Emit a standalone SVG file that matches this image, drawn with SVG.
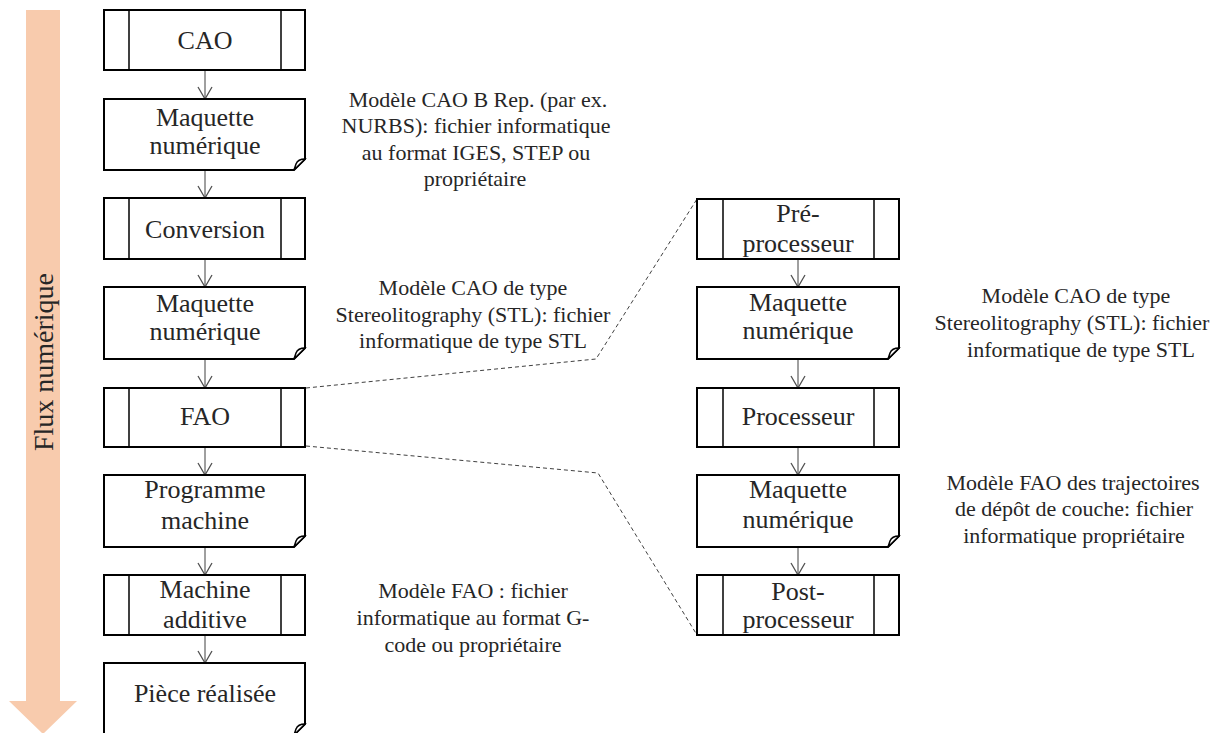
<svg xmlns="http://www.w3.org/2000/svg" width="1212" height="733" viewBox="0 0 1212 733">
<style>
.box{fill:#fff;stroke:#000;stroke-width:2}
.inner{stroke:#000;stroke-width:1.5}
.curl{fill:#fff;stroke:#000;stroke-width:1.5}
.nt{font-family:'Liberation Serif','Times New Roman','DejaVu Serif',serif;font-size:26px;fill:#262626;text-anchor:middle}
.at{font-family:'Liberation Serif','Times New Roman','DejaVu Serif',serif;font-size:22px;fill:#262626;text-anchor:middle}
.ft{font-family:'Liberation Serif','Times New Roman','DejaVu Serif',serif;font-size:28px;fill:#262626;text-anchor:middle}
.arr{stroke:#404040;stroke-width:1;fill:none;marker-end:url(#v)}
.dash{stroke:#404040;stroke-width:1;fill:none;stroke-dasharray:4 3}
</style>
<defs>
<marker id="v" viewBox="-13 -8 14 16" refX="0" refY="0" markerWidth="14" markerHeight="16" markerUnits="userSpaceOnUse" orient="auto">
<path d="M-12,-7 L0,0 L-12,7" fill="none" stroke="#505050" stroke-width="1.3"/>
</marker>
</defs>
<rect width="1212" height="733" fill="#fff"/>
<g id="flux">
<polygon points="26,10 60,10 60,701 77,701 43,734 9,701 26,701" fill="#F8CBAD"/>
<text class="ft" transform="translate(53,362) rotate(-90)">Flux numérique</text>
</g>
<g id="connectors">
<line class="arr" x1="205" y1="70" x2="205" y2="99"/>
<line class="arr" x1="205" y1="170" x2="205" y2="198"/>
<line class="arr" x1="205" y1="259" x2="205" y2="287"/>
<line class="arr" x1="205" y1="359" x2="205" y2="388"/>
<line class="arr" x1="205" y1="447" x2="205" y2="475"/>
<line class="arr" x1="205" y1="547" x2="205" y2="575"/>
<line class="arr" x1="205" y1="635" x2="205" y2="663"/>
<line class="arr" x1="798" y1="259" x2="798" y2="287"/>
<line class="arr" x1="798" y1="359" x2="798" y2="388"/>
<line class="arr" x1="798" y1="447" x2="798" y2="475"/>
<line class="arr" x1="798" y1="547" x2="798" y2="575"/>
<polyline class="dash" points="306,388 596,359 697,199"/>
<polyline class="dash" points="306,446 598,473 697,635"/>
</g>
<g id="n-cao">
<rect class="box" x="104" y="10" width="201" height="60"/>
<line class="inner" x1="129" y1="10" x2="129" y2="70"/><line class="inner" x1="281" y1="10" x2="281" y2="70"/>
<text class="nt" x="205" y="49">CAO</text>
</g>
<g id="n-maq1">
<path class="box" d="M104,99 H305 V159 L294,170 H104 Z"/>
<path class="curl" d="M294,170 L305,159 Q298,159 296,164 Q295,167 294,170 Z"/>
<text class="nt" x="205" y="126">Maquette</text>
<text class="nt" x="205" y="154">numérique</text>
</g>
<g id="n-conv">
<rect class="box" x="104" y="198" width="201" height="61"/>
<line class="inner" x1="129" y1="198" x2="129" y2="259"/><line class="inner" x1="281" y1="198" x2="281" y2="259"/>
<text class="nt" x="205" y="238">Conversion</text>
</g>
<g id="n-maq2">
<path class="box" d="M104,287 H305 V348 L294,359 H104 Z"/>
<path class="curl" d="M294,359 L305,348 Q298,348 296,353 Q295,356 294,359 Z"/>
<text class="nt" x="205" y="312">Maquette</text>
<text class="nt" x="205" y="340">numérique</text>
</g>
<g id="n-fao">
<rect class="box" x="104" y="388" width="201" height="59"/>
<line class="inner" x1="129" y1="388" x2="129" y2="447"/><line class="inner" x1="281" y1="388" x2="281" y2="447"/>
<text class="nt" x="205" y="425">FAO</text>
</g>
<g id="n-prog">
<path class="box" d="M104,475 H305 V536 L294,547 H104 Z"/>
<path class="curl" d="M294,547 L305,536 Q298,536 296,541 Q295,544 294,547 Z"/>
<text class="nt" x="205" y="498">Programme</text>
<text class="nt" x="205" y="529">machine</text>
</g>
<g id="n-mach">
<rect class="box" x="104" y="575" width="201" height="60"/>
<line class="inner" x1="129" y1="575" x2="129" y2="635"/><line class="inner" x1="281" y1="575" x2="281" y2="635"/>
<text class="nt" x="205" y="598">Machine</text>
<text class="nt" x="205" y="628">additive</text>
</g>
<g id="n-piece">
<path class="box" d="M104,663 H305 V724 L294,735 H104 Z"/>
<path class="curl" d="M294,735 L305,724 Q298,724 296,729 Q295,732 294,735 Z"/>
<text class="nt" x="205" y="702">Pièce réalisée</text>
</g>
<g id="n-pre">
<rect class="box" x="697" y="199" width="202" height="60"/>
<line class="inner" x1="723" y1="199" x2="723" y2="259"/><line class="inner" x1="874" y1="199" x2="874" y2="259"/>
<text class="nt" x="798" y="222">Pré-</text>
<text class="nt" x="798" y="252">processeur</text>
</g>
<g id="n-maq3">
<path class="box" d="M697,287 H899 V348 L888,359 H697 Z"/>
<path class="curl" d="M888,359 L899,348 Q892,348 890,353 Q889,356 888,359 Z"/>
<text class="nt" x="798" y="311">Maquette</text>
<text class="nt" x="798" y="339">numérique</text>
</g>
<g id="n-proc">
<rect class="box" x="697" y="388" width="202" height="59"/>
<line class="inner" x1="723" y1="388" x2="723" y2="447"/><line class="inner" x1="874" y1="388" x2="874" y2="447"/>
<text class="nt" x="798" y="425">Processeur</text>
</g>
<g id="n-maq4">
<path class="box" d="M697,475 H899 V536 L888,547 H697 Z"/>
<path class="curl" d="M888,547 L899,536 Q892,536 890,541 Q889,544 888,547 Z"/>
<text class="nt" x="798" y="498">Maquette</text>
<text class="nt" x="798" y="528">numérique</text>
</g>
<g id="n-post">
<rect class="box" x="697" y="575" width="202" height="60"/>
<line class="inner" x1="723" y1="575" x2="723" y2="635"/><line class="inner" x1="874" y1="575" x2="874" y2="635"/>
<text class="nt" x="798" y="600">Post-</text>
<text class="nt" x="798" y="628">processeur</text>
</g>
<g id="annotations">
<text class="at" x="478" y="107">Modèle CAO B Rep. (par ex.</text>
<text class="at" x="476" y="133">NURBS): fichier informatique</text>
<text class="at" x="476" y="160">au format IGES, STEP ou</text>
<text class="at" x="475" y="186">propriétaire</text>
<text class="at" x="473" y="295">Modèle CAO de type</text>
<text class="at" x="473" y="322">Stereolitography (STL): fichier</text>
<text class="at" x="473" y="348">informatique de type STL</text>
<text class="at" x="473" y="598">Modèle FAO : fichier</text>
<text class="at" x="473" y="625">informatique au format G-</text>
<text class="at" x="473" y="652">code ou propriétaire</text>
<text class="at" x="1076" y="303">Modèle CAO de type</text>
<text class="at" x="1072" y="330">Stereolitography (STL): fichier</text>
<text class="at" x="1081" y="357">informatique de type STL</text>
<text class="at" x="1073" y="490">Modèle FAO des trajectoires</text>
<text class="at" x="1074" y="516">de dépôt de couche: fichier</text>
<text class="at" x="1074" y="543">informatique propriétaire</text>
</g>
</svg>
